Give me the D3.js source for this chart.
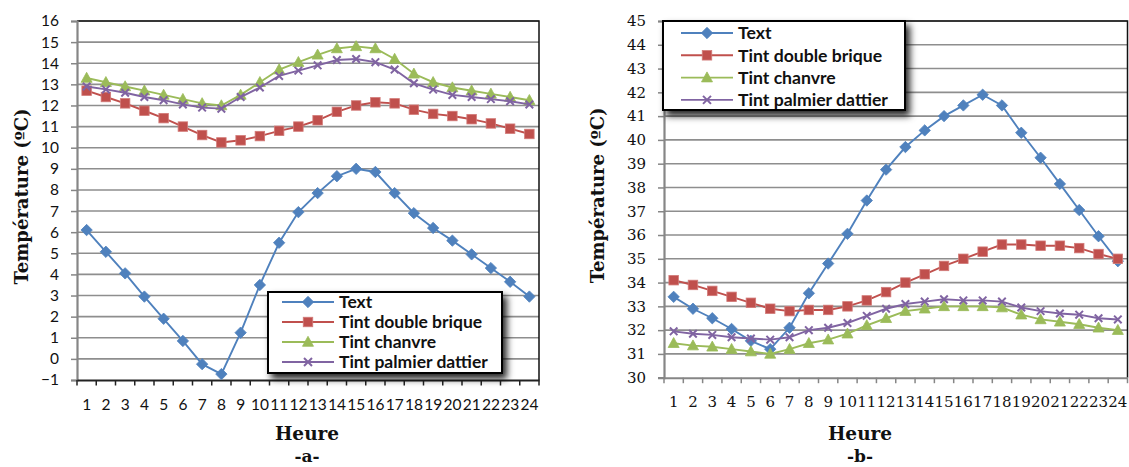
<!DOCTYPE html>
<html><head><meta charset="utf-8">
<script src="https://cdn.jsdelivr.net/npm/d3@7"></script>
<style>body{margin:0;background:#fff;} svg{display:block;}</style>
</head><body>
<svg id="c" width="1129" height="467"></svg>
<script>
const hours = ["1","2","3","4","5","6","7","8","9","10","11","12","13","14","15","16","17","18","19","20","21","22","23","24"];
const seriesNames = ["Text","Tint double brique","Tint chanvre","Tint palmier dattier"];
const seriesColors = ["#4f81bd","#c0504d","#9bbb59","#8064a2"];
const seriesMarkers = ["diamond","square","triangle","cross"];

// Chart a
const yTicksA = [-1,0,1,2,3,4,5,6,7,8,9,10,11,12,13,14,15,16];
const textA = [6.1,5.07,4.05,2.95,1.9,0.85,-0.25,-0.72,1.24,3.5,5.5,6.95,7.85,8.65,9.0,8.85,7.85,6.9,6.2,5.6,4.95,4.3,3.65,2.95];
const briqueA = [12.7,12.4,12.1,11.75,11.4,11.0,10.6,10.25,10.35,10.55,10.8,11.0,11.3,11.7,12.0,12.15,12.1,11.8,11.6,11.5,11.35,11.15,10.9,10.65];
const chanvreA = [13.3,13.1,12.9,12.7,12.5,12.3,12.1,12.0,12.5,13.1,13.7,14.05,14.4,14.7,14.8,14.7,14.2,13.5,13.1,12.85,12.7,12.55,12.4,12.25];
const palmierA = [12.9,12.76,12.6,12.4,12.25,12.05,11.9,11.85,12.4,12.85,13.4,13.65,13.9,14.15,14.2,14.05,13.7,13.05,12.75,12.5,12.4,12.3,12.2,12.05];

// Chart b
const yTicksB = [30,31,32,33,34,35,36,37,38,39,40,41,42,43,44,45];
const textB = [33.4,32.9,32.5,32.05,31.55,31.2,32.1,33.55,34.8,36.05,37.45,38.75,39.7,40.4,41.0,41.45,41.9,41.45,40.3,39.25,38.15,37.05,35.95,34.9];
const briqueB = [34.1,33.9,33.65,33.4,33.15,32.9,32.8,32.85,32.85,33.0,33.25,33.6,34.0,34.35,34.7,35.0,35.3,35.6,35.6,35.55,35.55,35.45,35.2,35.0];
const chanvreB = [31.45,31.35,31.3,31.2,31.1,31.0,31.2,31.45,31.6,31.85,32.2,32.5,32.8,32.9,33.0,33.0,33.0,32.95,32.65,32.45,32.35,32.25,32.1,32.0];
const palmierB = [31.95,31.85,31.8,31.7,31.65,31.6,31.7,32.0,32.1,32.3,32.6,32.9,33.1,33.2,33.3,33.25,33.25,33.2,32.95,32.8,32.7,32.65,32.5,32.45];

const yTitle = "Température (ºC)";
const xTitle = "Heure";

const svg = d3.select("#c");
const defs = svg.append("defs");
const f = defs.append("filter").attr("id","sh").attr("x","-10%").attr("y","-20%").attr("width","130%").attr("height","160%");
f.append("feDropShadow").attr("dx",4).attr("dy",5).attr("stdDeviation",3.5).attr("flood-color","#000").attr("flood-opacity",0.85);

function marker(g, type, x, y, color, s){
  if(type==="diamond"){
    g.append("path").attr("d",`M${x},${y-s*0.6}L${x+s*0.6},${y}L${x},${y+s*0.6}L${x-s*0.6},${y}Z`).attr("fill",color).attr("stroke",color).attr("stroke-width",0.8);
  } else if(type==="square"){
    g.append("rect").attr("x",x-s/2).attr("y",y-s/2).attr("width",s).attr("height",s).attr("fill",color).attr("stroke","#d27a78").attr("stroke-width",0.8);
  } else if(type==="triangle"){
    g.append("path").attr("d",`M${x},${y-s*0.6}L${x+s*0.58},${y+s*0.45}L${x-s*0.58},${y+s*0.45}Z`).attr("fill",color).attr("stroke",color).attr("stroke-width",0.8);
  } else {
    const h=s*0.42;
    g.append("path").attr("d",`M${x-h},${y-h}L${x+h},${y+h}M${x-h},${y+h}L${x+h},${y-h}`).attr("stroke",color).attr("stroke-width",2);
  }
}

function drawChart(cfg){
  const g = svg.append("g");
  const x = d3.scaleBand().domain(hours).range([cfg.x0,cfg.x1]);
  const y = d3.scaleLinear().domain(cfg.ydom).range([cfg.yb,cfg.yt]);
  const cx = h => x(h)+x.bandwidth()/2;

  g.append("g").selectAll("line").data(cfg.yticks.slice(1)).join("line")
    .attr("x1",cfg.x0).attr("x2",cfg.x1).attr("y1",d=>y(d)).attr("y2",d=>y(d))
    .attr("stroke","#8e8e8e").attr("stroke-width",1.6);
  g.append("path").attr("d",`M${cfg.x0},${cfg.yt}H${cfg.x1}V${cfg.yb}`).attr("fill","none").attr("stroke","#111").attr("stroke-width",1.5);

  const ya = g.append("g").attr("transform",`translate(${cfg.x0},0)`)
    .call(d3.axisLeft(y).tickValues(cfg.yticks).tickSize(6).tickPadding(cfg.ypad).tickFormat(d3.format("d")));
  ya.select(".domain").attr("stroke","#868686").attr("stroke-width",2.2);
  ya.selectAll(".tick line").attr("stroke","#868686").attr("stroke-width",1.5);
  ya.selectAll("text").attr("font-family",cfg.tickFont).attr("font-size",cfg.tickSize).attr("fill","#111");

  const xa = g.append("g").attr("transform",`translate(0,${cfg.yb})`)
    .call(d3.axisBottom(x).tickSize(0).tickPadding(cfg.xpad));
  xa.select(".domain").attr("stroke",cfg.xAxisColor).attr("stroke-width",2);
  xa.selectAll("text").attr("font-family",cfg.tickFont).attr("font-size",cfg.tickSize).attr("fill","#111");
  const bounds = hours.map(h=>x(h)).concat([cfg.x1]);
  g.append("g").selectAll("line").data(bounds).join("line")
    .attr("x1",d=>d).attr("x2",d=>d).attr("y1",cfg.yb).attr("y2",cfg.yb+5.5)
    .attr("stroke",cfg.xAxisColor).attr("stroke-width",1.5);

  cfg.series.forEach((vals,i)=>{
    const pts = hours.map((h,j)=>[cx(h),y(vals[j])]);
    g.append("path").attr("d",d3.line()(pts)).attr("fill","none").attr("stroke",seriesColors[i]).attr("stroke-width",1.9);
    const mg = g.append("g");
    pts.forEach(p=>marker(mg,seriesMarkers[i],p[0],p[1],seriesColors[i],i===3?9:9.5));
  });

  g.append("text").attr("transform",`translate(${cfg.ytx},${(cfg.yt+cfg.yb)/2-4}) rotate(-90)`)
    .attr("text-anchor","middle").attr("font-family","DejaVu Serif").attr("font-weight","bold").attr("font-size",18).attr("fill","#111").text(yTitle);
  g.append("text").attr("x",cfg.xtx).attr("y",440).attr("text-anchor","middle")
    .attr("font-family","DejaVu Serif").attr("font-weight","bold").attr("font-size",18.5).attr("fill","#111").text(xTitle);
  g.append("text").attr("x",cfg.xtx).attr("y",462).attr("text-anchor","middle")
    .attr("font-family","DejaVu Serif").attr("font-weight","bold").attr("font-size",17).attr("fill","#111").text(cfg.label);

  const L = cfg.leg;
  const lg = g.append("g");
  lg.append("rect").attr("x",L.x).attr("y",L.y).attr("width",L.w).attr("height",L.h)
    .attr("fill","#fff").attr("stroke","#000").attr("stroke-width",2).attr("filter","url(#sh)");
  const texts = [];
  seriesNames.forEach((n,i)=>{
    const yy = L.ry0 + i*L.dy;
    lg.append("line").attr("x1",L.lx0).attr("x2",L.lx1).attr("y1",yy).attr("y2",yy).attr("stroke",seriesColors[i]).attr("stroke-width",1.9);
    marker(lg,seriesMarkers[i],(L.lx0+L.lx1)/2,yy,seriesColors[i],9.5);
    texts.push(lg.append("text").attr("x",L.tx).attr("y",yy).attr("dy","0.36em")
      .attr("font-family","Lato").attr("font-weight","bold").attr("font-size",L.fs).attr("fill","#111").text(n));
  });
  // fit the longest legend label to the reference width
  const w = texts[3].node().getComputedTextLength();
  const fs = L.fs * L.tw / w;
  texts.forEach(t=>t.attr("font-size",fs));
}

drawChart({
  x0:77, x1:539, yt:21, yb:380, ydom:[-1,16], yticks:yTicksA, ypad:12,
  xpad:19, tickFont:"Lato", tickSize:15.5, xAxisColor:"#222",
  series:[textA,briqueA,chanvreA,palmierA],
  ytx:28, xtx:307, label:"-a-",
  leg:{x:268,y:292,w:234,h:81,ry0:302,dy:20,lx0:282,lx1:334,tx:339,fs:15.5,tw:149}
});
drawChart({
  x0:664, x1:1127.5, yt:21, yb:377.7, ydom:[30,45], yticks:yTicksB, ypad:12,
  xpad:19, tickFont:"DejaVu Serif", tickSize:15, xAxisColor:"#868686",
  series:[textB,briqueB,chanvreB,palmierB],
  ytx:604, xtx:860, label:"-b-",
  leg:{x:663,y:21,w:242,h:89,ry0:33,dy:22.3,lx0:681,lx1:733,tx:738,fs:16.5,tw:150}
});
</script>
</body></html>
